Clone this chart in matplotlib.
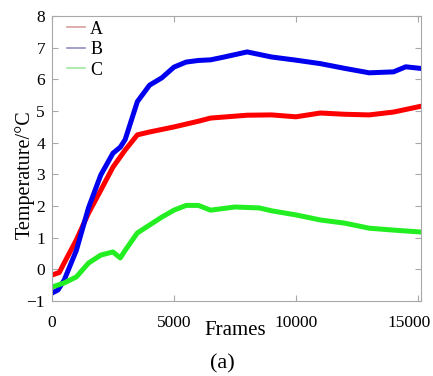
import matplotlib
matplotlib.use("Agg")
import matplotlib.pyplot as plt
from matplotlib.lines import Line2D
from matplotlib.transforms import ScaledTranslation

plt.rcParams['font.family'] = ['Liberation Serif', 'DejaVu Serif']

# values
frames_a = [0, 300, 500, 1000, 1500, 2000, 2500, 3000, 3500, 4000, 5000, 6000,
            6500, 8000, 9000, 10000, 11000, 12000, 13000, 14000, 15100]
temp_a = [-0.18, -0.1, 0.2, 0.93, 1.78, 2.5, 3.23, 3.77, 4.25, 4.34, 4.5, 4.68,
          4.78, 4.87, 4.88, 4.82, 4.94, 4.9, 4.88, 4.97, 5.15]

frames_b = [0, 250, 500, 1000, 1500, 2000, 2500, 2800, 3000, 3500, 4000, 4500,
            5000, 5500, 6000, 6500, 7000, 8000, 9000, 10000, 11000, 12000,
            13000, 14000, 14500, 15100]
temp_b = [-0.75, -0.65, -0.34, 0.6, 1.95, 2.98, 3.67, 3.86, 4.1, 5.3, 5.82, 6.05,
          6.39, 6.55, 6.6, 6.62, 6.7, 6.87, 6.71, 6.61, 6.5, 6.35, 6.21, 6.24,
          6.4, 6.35]

frames_c = [0, 500, 1000, 1500, 2000, 2500, 2800, 3000, 3500, 4000, 4500, 5000,
            5500, 6000, 6500, 7500, 8500, 9000, 10000, 11000, 12000, 13000,
            14000, 15100]
temp_c = [-0.56, -0.43, -0.24, 0.2, 0.45, 0.55, 0.36, 0.6, 1.15, 1.4, 1.65, 1.87,
          2.02, 2.02, 1.87, 1.97, 1.94, 1.85, 1.72, 1.56, 1.46, 1.3, 1.24, 1.18]

series_labels = ['A', 'B', 'C']
series_colors = ['#ff0000', '#0000ee', '#22ee22']
legend_colors = ['#d8a0a0', '#9090c0', '#a0e8a0']

fig = plt.figure(figsize=(4.33, 3.76), dpi=100)
ax = fig.add_axes([0.120, 0.1995, 0.852, 0.7575])

for xs, ys, c in zip([frames_a, frames_b, frames_c], [temp_a, temp_b, temp_c], series_colors):
    ax.plot(xs, ys, color=c, linewidth=3.6, solid_joinstyle='round')

ax.set_xlim(0, 15120)
ax.set_ylim(-1, 8)
ax.set_xticks([0, 5000, 10000, 15000])
ax.set_yticks(range(-1, 9))

for s in ax.spines.values():
    s.set_color('#a8a8a8')
ax.tick_params(direction='in', top=True, right=True, length=4, color='#a8a8a8',
               labelsize=12.5)
ax.tick_params(axis='x', pad=10)
ax.tick_params(axis='y', pad=5)

# last x label is pulled left so it stays inside the figure
last = ax.get_xticklabels()[-1]
last.set_transform(last.get_transform() + ScaledTranslation(-0.09, 0, fig.dpi_scale_trans))

ax.set_xlabel('Frames', fontsize=15)
ax.xaxis.set_label_coords(0.496, -0.105)
ax.xaxis.label.set_va('center')
ax.set_ylabel('Temperature/°C', fontsize=14.5)
ax.yaxis.set_label_coords(-0.073, 0.442)
ax.yaxis.label.set_va('center')

handles = [Line2D([], [], color=c, linewidth=1.2) for c in legend_colors]
ax.legend(handles, series_labels, loc='upper left', frameon=False, fontsize=13,
          handlelength=1.0, handletextpad=0.3, labelspacing=0.2,
          borderaxespad=0.0, bbox_to_anchor=(0.02, 1.01))

fig.text(0.513, 0.032, '(a)', fontsize=16, ha='center', va='center')

fig.savefig('out.png', dpi=100)
